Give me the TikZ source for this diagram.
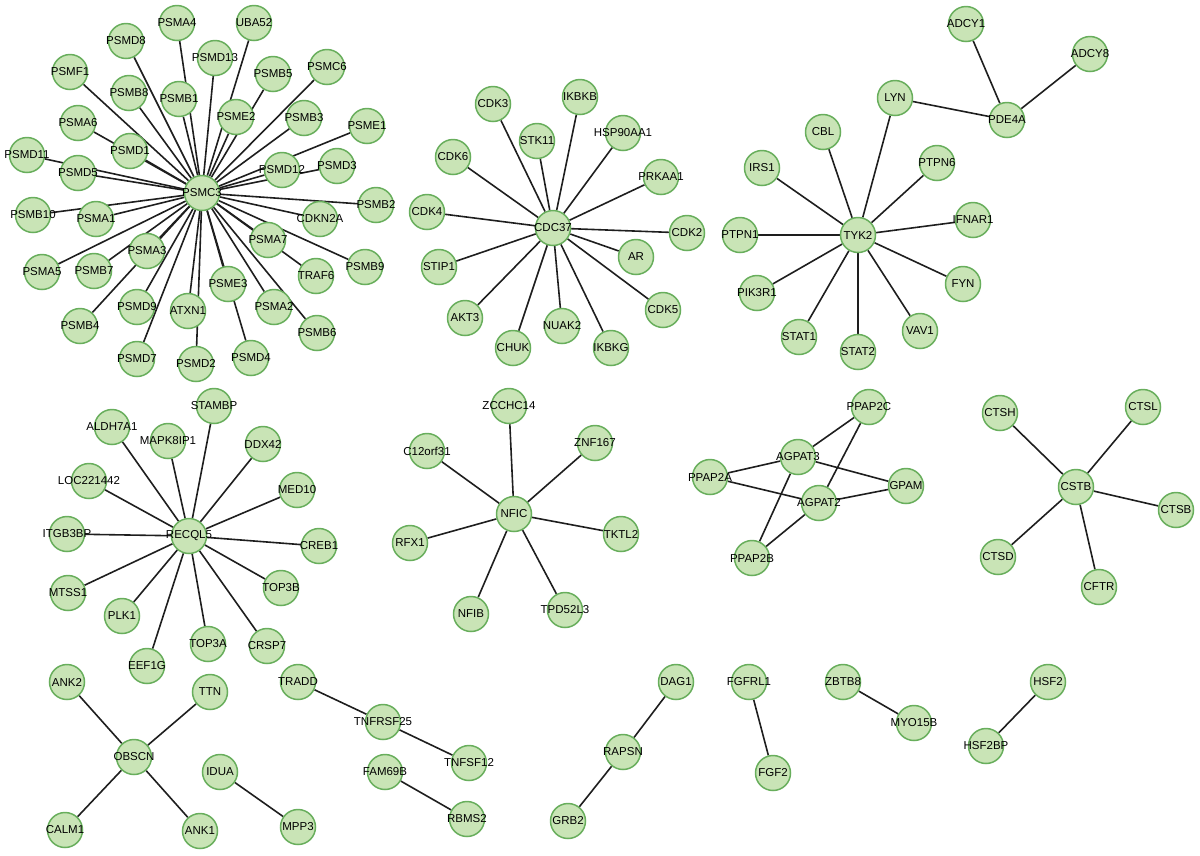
\documentclass[tikz,border=0pt]{standalone}
\usepackage{fontspec}
\setmainfont{Liberation Sans}
\usepackage{xcolor}
\usepackage{tikz}
\usetikzlibrary{backgrounds}
\definecolor{genefill}{RGB}{201,228,182}
\definecolor{genedraw}{RGB}{104,174,92}
\definecolor{edgecol}{RGB}{30,30,30}

\begin{document}
\begin{tikzpicture}[x=1pt, y=-1pt,
    gene/.style={circle, draw=genedraw, fill=genefill, line width=1.5pt, minimum size=35pt, inner sep=0pt, font=\fontsize{11.5}{13}\selectfont},
    link/.style={draw=edgecol, line width=1.6pt}]
                            \useasboundingbox (0,0) rectangle (1200,855);
                            % Nodes
                            \foreach \i/\j/\k in {PSMC3/202/193, PSMA4/177/23, UBA52/254/23, PSMD8/126/41, PSMD13/215/58,
                              PSMF1/70/72, PSMB5/273/74, PSMC6/327/67, PSMB8/129/93, PSMB1/179/99, PSME2/236/117,
                              PSMB3/304/118, PSME1/367/126, PSMA6/78/123, PSMD1/130/151, PSMD11/27/155, PSMD5/78/173,
                              PSMD12/282/170, PSMD3/337/166, PSMB10/33/215, PSMA1/96/219, PSMB2/376/205, CDKN2A/320/219,
                              PSMA7/268/240, PSMA3/147/251, PSMA5/42/272, PSMB7/94/271, TRAF6/316/276, PSMB9/365/267,
                              PSME3/228/284, PSMD9/137/307, ATXN1/188/311, PSMA2/274/307, PSMB4/80/326, PSMB6/317/333,
                              PSMD7/137/359, PSMD2/196/364, PSMD4/251/358} {
                              \node[gene] (\i) at (\j,\k) {\makebox[0pt]{\i}};
                            }
                            \foreach \i/\j/\k in {CDC37/553/228, CDK3/493/104, IKBKB/580/97, STK11/537/141, HSP90AA1/623/133,
                              CDK6/453/157, PRKAA1/661/177, CDK4/427/212, CDK2/687/233, AR/636/257, STIP1/439/267,
                              CDK5/663/310, AKT3/465/318, NUAK2/562/326, CHUK/513/348, IKBKG/611/348} {
                              \node[gene] (\i) at (\j,\k) {\makebox[0pt]{\i}};
                            }
                            \foreach \i/\j/\k in {TYK2/858/235, ADCY1/966/24, ADCY8/1090/54, LYN/895/98, PDE4A/1007/120,
                              CBL/823/132, IRS1/762/168, PTPN6/937/163, IFNAR1/973/220, PTPN1/740/235, PIK3R1/757/293,
                              FYN/963/284, STAT1/799/337, STAT2/858/352, VAV1/920/331} {
                              \node[gene] (\i) at (\j,\k) {\makebox[0pt]{\i}};
                            }
                            \foreach \i/\j/\k in {RECQL5/189/536, STAMBP/214/406, ALDH7A1/112/427, MAPK8IP1/168/441,
                              DDX42/263/444, LOC221442/89/481, MED10/297/490, ITGB3BP/67/534, CREB1/319/546, MTSS1/68/593,
                              TOP3B/281/588, PLK1/122/616, TOP3A/208/644, CRSP7/267/646, EEF1G/147/666} {
                              \node[gene] (\i) at (\j,\k) {\makebox[0pt]{\i}};
                            }
                            \foreach \i/\j/\k in {NFIC/514/514, ZCCHC14/509/406, C12orf31/427/451, ZNF167/595/443,
                              RFX1/410/543, TKTL2/621/534, NFIB/471/614, TPD52L3/565/610,
                              PPAP2C/869/407, AGPAT3/798/457, PPAP2A/710/477, GPAM/906/486, AGPAT2/819/503, PPAP2B/752/558,
                              CSTB/1076/487, CTSH/1000/413, CTSL/1143/407, CTSB/1176/510, CTSD/998/557, CFTR/1099/587} {
                              \node[gene] (\i) at (\j,\k) {\makebox[0pt]{\i}};
                            }
                            \foreach \i/\j/\k in {OBSCN/134/757, ANK2/67/682, TTN/210/692, CALM1/65/830, ANK1/200/831,
                              IDUA/220/772, MPP3/298/827, TRADD/298/682, TNFRSF25/383/722, TNFSF12/469/763,
                              FAM69B/385/772, RBMS2/467/819, DAG1/676/682, RAPSN/623/752, GRB2/568/821,
                              FGFRL1/749/682, FGF2/773/773, ZBTB8/843/682, MYO15B/914/723, HSF2/1048/682, HSF2BP/986/746} {
                              \node[gene] (\i) at (\j,\k) {\makebox[0pt]{\i}};
                            }
                            % Edges
                            \begin{scope}[on background layer]
                            \foreach \target in {PSMA4, UBA52, PSMD8, PSMD13, PSMF1, PSMB5, PSMC6, PSMB8, PSMB1, PSME2,
                              PSMB3, PSME1, PSMA6, PSMD1, PSMD11, PSMD5, PSMD12, PSMD3, PSMB10, PSMA1, PSMB2, CDKN2A,
                              PSMA7, PSMA3, PSMA5, PSMB7, TRAF6, PSMB9, PSME3, PSMD9, ATXN1, PSMA2, PSMB4, PSMB6,
                              PSMD7, PSMD2, PSMD4} {
                              \draw[link] (PSMC3) -- (\target);
                            }
                            \foreach \target in {CDK3, IKBKB, STK11, HSP90AA1, CDK6, PRKAA1, CDK4, CDK2, AR, STIP1,
                              CDK5, AKT3, NUAK2, CHUK, IKBKG} {
                              \draw[link] (CDC37) -- (\target);
                            }
                            \foreach \target in {LYN, CBL, IRS1, PTPN6, IFNAR1, PTPN1, PIK3R1, FYN, STAT1, STAT2, VAV1} {
                              \draw[link] (TYK2) -- (\target);
                            }
                            \foreach \target in {STAMBP, ALDH7A1, MAPK8IP1, DDX42, LOC221442, MED10, ITGB3BP, CREB1,
                              MTSS1, TOP3B, PLK1, TOP3A, CRSP7, EEF1G} {
                              \draw[link] (RECQL5) -- (\target);
                            }
                            \foreach \target in {ZCCHC14, C12orf31, ZNF167, RFX1, TKTL2, NFIB, TPD52L3} {
                              \draw[link] (NFIC) -- (\target);
                            }
                            \foreach \target in {CTSH, CTSL, CTSB, CTSD, CFTR} {
                              \draw[link] (CSTB) -- (\target);
                            }
                            \foreach \target in {ANK2, TTN, CALM1, ANK1} {
                              \draw[link] (OBSCN) -- (\target);
                            }
                            \foreach \source/\target in {LYN/PDE4A, ADCY1/PDE4A, ADCY8/PDE4A,
                              PPAP2A/AGPAT3, PPAP2A/AGPAT2, AGPAT3/PPAP2C, AGPAT3/GPAM, AGPAT3/PPAP2B,
                              AGPAT2/PPAP2C, AGPAT2/GPAM, AGPAT2/PPAP2B, IDUA/MPP3, TRADD/TNFRSF25, TNFRSF25/TNFSF12,
                              FAM69B/RBMS2, DAG1/RAPSN, RAPSN/GRB2, FGFRL1/FGF2, ZBTB8/MYO15B, HSF2/HSF2BP} {
                              \draw[link] (\source) -- (\target);
                            }
                            \end{scope}
                        \end{tikzpicture}
\end{document}
